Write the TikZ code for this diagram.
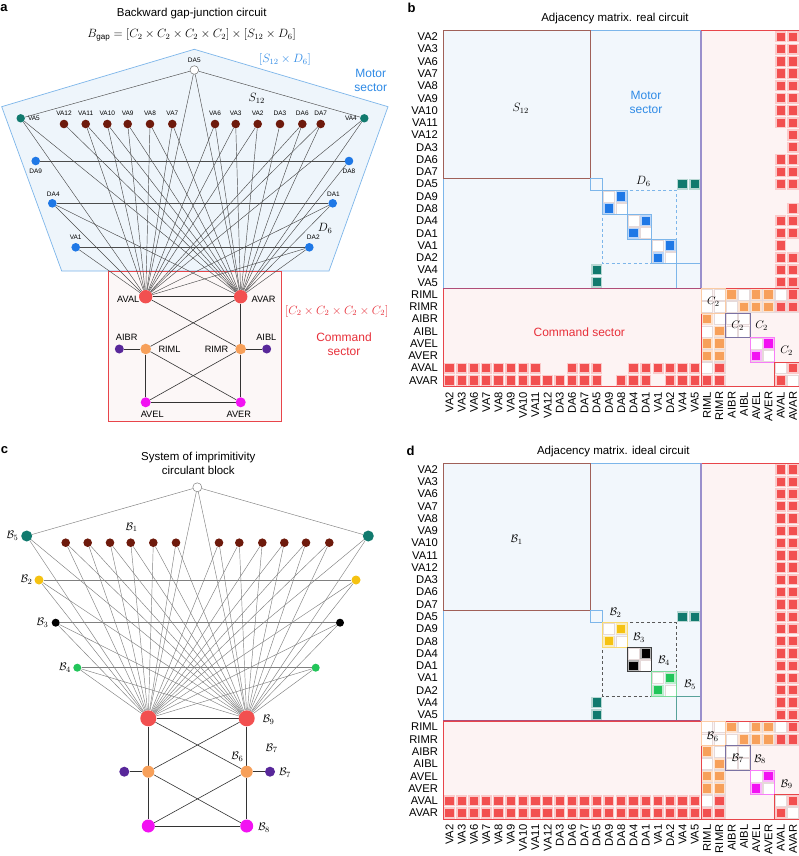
\documentclass[tikz,border=0pt]{standalone}
\usepackage{amsmath}
\usepackage{fontspec}
\setmainfont{Liberation Sans}
\pgfdeclarelayer{bg}
\pgfsetlayers{bg,main}
\definecolor{cRed}{HTML}{F25050}
\definecolor{cBrown}{HTML}{6E1A0C}
\definecolor{cTeal}{HTML}{117A6E}
\definecolor{cBlue}{HTML}{1F78E6}
\definecolor{cOrange}{HTML}{F7A05A}
\definecolor{cPurple}{HTML}{58279A}
\definecolor{cMag}{HTML}{F212F2}
\definecolor{cYellow}{HTML}{F5C211}
\definecolor{cGreen}{HTML}{22C55A}
\definecolor{lineBlue}{HTML}{7DB6EA}
\definecolor{txtBlue}{HTML}{2E8AE6}
\definecolor{lineRed}{HTML}{E8454A}
\definecolor{txtRed}{HTML}{E8303A}
\definecolor{motorFill}{HTML}{F2F7FC}
\definecolor{cmdFill}{HTML}{FDF3F3}
\definecolor{pentFill}{HTML}{EEF5FB}
\definecolor{boxFill}{HTML}{FCF7F7}
\definecolor{brownLine}{HTML}{A06058}
\definecolor{purpLine}{HTML}{9A8FCC}
\definecolor{redPurp}{HTML}{B04D78}
\definecolor{gridc}{HTML}{E6DADA}
\tikzset{
  dot/.style 2 args={circle,fill=#1,minimum size=#2,inner sep=0pt},
  edgeA/.style={draw=black!70,line width=0.45pt},
  edgeC/.style={draw=black!50,line width=0.45pt},
  cmdA/.style={draw=black!80,line width=0.6pt},
  tinylab/.style={font=\fontsize{6.5}{7}\selectfont,inner sep=0pt},
  nlab/.style={font=\fontsize{9.2}{10}\selectfont,inner sep=0pt},
  ttl/.style={font=\fontsize{11.5}{14}\selectfont,inner sep=0pt,align=center},
  big/.style={font=\fontsize{12}{14}\selectfont,inner sep=0pt,align=center},
  panel/.style={font=\fontsize{13}{14}\selectfont\bfseries,inner sep=0pt},
  mlab/.style={font=\fontsize{11.2}{11.5}\selectfont,inner sep=0pt},
  clab/.style={font=\fontsize{11}{12}\selectfont,inner sep=0pt},
}
\newcommand{\mcell}[3]{%
  \fill[#3!30!white] (#2+0.05,#1+0.05) rectangle (#2+0.95,#1+0.95);
  \fill[#3] (#2+0.16,#1+0.16) rectangle (#2+0.84,#1+0.84);}
\newcommand{\mpair}[3]{\mcell{#1}{#2}{#3}\mcell{#2}{#1}{#3}}
\newcommand{\ecell}[2]{\filldraw[fill=white,draw=gridc,line width=0.4pt] (#2+0.05,#1+0.05) rectangle (#2+0.95,#1+0.95);}
\newcommand{\matcommon}[1]{%
  \fill[motorFill] (0,0) rectangle (21,21);
  \fill[cmdFill] (21,0) rectangle (29,21);
  \fill[cmdFill] (0,21) rectangle (29,29);
  \foreach \r in {21,...,28}{\foreach \c in {21,22}{\ecell{\r}{\c}\ecell{\c}{\r}}}
  \foreach \p in {13,15,17,23,25,27}{\pgfmathtruncatemacro\q{\p+1}\ecell{\p}{\p}\ecell{\p}{\q}\ecell{\q}{\p}\ecell{\q}{\q}}
  \mpair{21}{23}{cOrange}\mpair{21}{25}{cOrange}\mpair{21}{26}{cOrange}
  \mpair{22}{24}{cOrange}\mpair{22}{25}{cOrange}\mpair{22}{26}{cOrange}
  \mpair{25}{26}{cMag}
  \mpair{27}{22}{cRed}\mpair{28}{21}{cRed}\mpair{28}{22}{cRed}\mpair{27}{28}{cRed}
  \mpair{12}{19}{cTeal}\mpair{12}{20}{cTeal}
  \foreach \n [count=\i from 0] in {VA2,VA3,VA6,VA7,VA8,VA9,VA10,VA11,VA12,DA3,DA6,DA7,DA5,DA9,DA8,DA4,DA1,VA1,DA2,VA4,VA5,RIML,RIMR,AIBR,AIBL,AVEL,AVER,AVAL,AVAR}{
    \node[mlab,anchor=east] (#1r\i) at (-0.42,\i+0.5) {\n};
    \node[mlab,anchor=east,rotate=90] (#1c\i) at (\i+0.5,29.42) {\n};}
}
\newcommand{\matframe}{%
  \draw[lineRed,line width=0.8pt] (21,0) rectangle (29,29);
  \draw[lineRed,line width=0.8pt] (0,21) rectangle (29,29);
  \draw[cOrange!55!white,line width=0.8pt] (21,21) rectangle (23,23);
  \draw[purpLine!80!black,line width=0.8pt] (23,23) rectangle (25,25);
  \draw[cMag!55!white,line width=0.8pt] (25,25) rectangle (27,27);
  \draw[lineRed,line width=0.8pt] (27,27) rectangle (29,29);
  \draw[redPurp,line width=1pt] (0,21) -- (21,21);
  \draw[purpLine,line width=1.4pt] (21,0) -- (21,21);
}
\begin{document}
\begin{tikzpicture}[x=1pt,y=-1pt]
\useasboundingbox (0,0) rectangle (799,856);
\begin{pgfonlayer}{bg}
\fill[white] (0,0) rectangle (799,856);
\end{pgfonlayer}
% ================= panel a =================
\node[panel] (pa) at (4,8) {a};
\node[ttl] (ta) at (191.7,13.3) {Backward gap-junction circuit};
\node[ttl] (fa) at (191.7,35) {$B_{\text{gap}} = [C_2\times C_2\times C_2\times C_2]\times[S_{12}\times D_6]$};
\node[big,text=txtBlue] (sdA) at (285,60) {$[S_{12}\times D_6]$};
\node[big,text=txtBlue] (msA) at (370.7,80.3) {Motor\\sector};
\node[big] (s12A) at (256.7,98.3) {$S_{12}$};
\node[big] (d6A) at (325,228.3) {$D_6$};
\node[big,text=txtRed] (ccA) at (336.7,311) {$[C_2\times C_2\times C_2\times C_2]$};
\node[big,text=txtRed] (csA) at (344,344.7) {Command\\sector};

\node[dot={white}{8.6pt},draw=black!55,line width=0.5pt] (aDA5) at (194.3,70) {};
\node[tinylab] (laDA5) at (194.3,60.7) {DA5};
\node[dot={cTeal}{8.4pt}] (aVA5) at (20.7,118.3) {};
\node[dot={cTeal}{8.4pt}] (aVA4) at (364.3,118.3) {};
\node[tinylab,anchor=west] (laVA5) at (27.8,118.3) {VA5};
\node[tinylab,anchor=east] (laVA4) at (357,118.3) {VA4};
\foreach \n/\x in {VA12/64,VA11/85.7,VA10/107.3,VA9/127.7,VA8/150,VA7/172.3,VA6/215,VA3/235.7,VA2/257.7,DA3/280,DA6/302.3,DA7/320.7}{
  \node[dot={cBrown}{8.6pt}] (a\n) at (\x,124) {};
  \node[tinylab] (la\n) at (\x,113.7) {\n};}
\node[dot={cBlue}{8.6pt}] (aDA9) at (35.7,161) {};
\node[dot={cBlue}{8.6pt}] (aDA8) at (349,161) {};
\node[dot={cBlue}{8.6pt}] (aDA4) at (52.3,203.3) {};
\node[dot={cBlue}{8.6pt}] (aDA1) at (332.7,203.3) {};
\node[dot={cBlue}{8.6pt}] (aVA1) at (75.7,247.3) {};
\node[dot={cBlue}{8.6pt}] (aDA2) at (309.3,247.3) {};
\node[tinylab] (laDA9) at (35.7,171) {DA9};
\node[tinylab] (laDA8) at (349,171) {DA8};
\node[tinylab] (laDA4) at (53.3,194.3) {DA4};
\node[tinylab] (laDA1) at (333.5,194.3) {DA1};
\node[tinylab] (laVA1) at (75.7,237.7) {VA1};
\node[tinylab] (laDA2) at (313.3,237.7) {DA2};
\node[dot={cRed}{13.4pt}] (aAVAL) at (145.7,296.7) {};
\node[dot={cRed}{13.4pt}] (aAVAR) at (240.7,296.7) {};
\node[dot={cOrange}{10.6pt}] (aRIML) at (145.7,349) {};
\node[dot={cOrange}{10.6pt}] (aRIMR) at (240.7,349) {};
\node[dot={cPurple}{9pt}] (aAIBR) at (119.3,349) {};
\node[dot={cPurple}{9pt}] (aAIBL) at (266.7,349) {};
\node[dot={cMag}{10pt}] (aAVEL) at (145.7,402.3) {};
\node[dot={cMag}{10pt}] (aAVER) at (240.7,402.3) {};
\node[nlab,anchor=east] (laAVAL) at (139.5,299.3) {AVAL};
\node[nlab,anchor=west] (laAVAR) at (251.5,299.3) {AVAR};
\node[nlab,anchor=west] (laRIML) at (158.3,349.3) {RIML};
\node[nlab,anchor=east] (laRIMR) at (228.5,349.3) {RIMR};
\node[nlab] (laAIBR) at (126.7,337.7) {AIBR};
\node[nlab] (laAIBL) at (266.3,337.7) {AIBL};
\node[nlab] (laAVEL) at (152.2,414.3) {AVEL};
\node[nlab] (laAVER) at (238.8,414.3) {AVER};
\begin{pgfonlayer}{bg}
\filldraw[fill=pentFill,draw=lineBlue,line width=0.7pt] (194.3,49.3) -- (1.7,106.7) -- (61.7,271) -- (329,271) -- (388,106.7) -- cycle;
\filldraw[fill=boxFill,draw=lineRed,line width=0.7pt] (108.3,271) rectangle (281.7,421.7);
\draw[edgeA] (aDA5) -- (aVA5);
\draw[edgeA] (aDA5) -- (aVA4);
\draw[edgeA] (aDA9) -- (aDA8);
\draw[edgeA] (aDA4) -- (aDA1);
\draw[edgeA] (aVA1) -- (aDA2);
\foreach \n in {VA2,VA3,VA6,VA7,VA8,VA9,VA10,VA11,DA6,DA7,DA5,DA4,DA1,VA1,DA2,VA4,VA5}{\draw[edgeA] (a\n) -- (aAVAL);}
\foreach \n in {VA2,VA3,VA6,VA7,VA8,VA9,VA10,VA11,VA12,DA3,DA6,DA7,DA5,DA8,DA4,DA1,DA2,VA4,VA5}{\draw[edgeA] (a\n) -- (aAVAR);}
\draw[cmdA] (aAVAL) -- (aAVAR);
\draw[cmdA] (aAVAL) -- (aRIMR);
\draw[cmdA] (aAVAR) -- (aRIML);
\draw[cmdA] (aAVAR) -- (aRIMR);
\draw[cmdA] (aAIBR) -- (aRIML);
\draw[cmdA] (aAIBL) -- (aRIMR);
\draw[cmdA] (aRIML) -- (aAVEL);
\draw[cmdA] (aRIML) -- (aAVER);
\draw[cmdA] (aRIMR) -- (aAVEL);
\draw[cmdA] (aRIMR) -- (aAVER);
\draw[cmdA] (aAVEL) -- (aAVER);
\end{pgfonlayer}
% ================= panel c =================
\node[panel] (pc) at (4.5,450) {c};
\node[ttl] (tc) at (198.3,463) {System of imprimitivity\\circulant block};
\node[dot={white}{9pt},draw=black!50,line width=0.5pt] (cTop) at (197.3,487.3) {};
\node[dot={cTeal}{11pt}] (cB5L) at (26.7,536) {};
\node[dot={cTeal}{11pt}] (cB5R) at (368.3,536) {};
\foreach \x [count=\i] in {65.7,87.7,110,130.7,153.3,176,219,239.3,262.3,284.3,306,329.3}{
  \node[dot={cBrown}{8.6pt}] (cBr\i) at (\x,542.7) {};}
\node[dot={cYellow}{9pt}] (cB2L) at (39,580) {};
\node[dot={cYellow}{9pt}] (cB2R) at (356,580) {};
\node[dot={black}{8pt}] (cB3L) at (55.7,622.7) {};
\node[dot={black}{8pt}] (cB3R) at (340,622.7) {};
\node[dot={cGreen}{8pt}] (cB4L) at (77.3,667.7) {};
\node[dot={cGreen}{8pt}] (cB4R) at (315.7,667.7) {};
\node[dot={cRed}{16pt}] (cAVAL) at (148.3,718.3) {};
\node[dot={cRed}{16pt}] (cAVAR) at (246.7,718.3) {};
\node[dot={cOrange}{12pt}] (cRIML) at (148.3,771.7) {};
\node[dot={cOrange}{12pt}] (cRIMR) at (246.7,771.7) {};
\node[dot={cPurple}{10pt}] (cAIBR) at (124.3,771.7) {};
\node[dot={cPurple}{10pt}] (cAIBL) at (270,771.7) {};
\node[dot={cMag}{13pt}] (cAVEL) at (148.3,826) {};
\node[dot={cMag}{13pt}] (cAVER) at (246.7,826) {};
\node[clab] (lcB5) at (12.5,536) {$\mathcal{B}_5$};
\node[clab] (lcB2) at (26.5,580) {$\mathcal{B}_2$};
\node[clab] (lcB3) at (42.5,622.7) {$\mathcal{B}_3$};
\node[clab] (lcB4) at (65,667.7) {$\mathcal{B}_4$};
\node[clab] (lcB1) at (131.7,527.3) {$\mathcal{B}_1$};
\node[clab] (lcB9) at (268.5,720) {$\mathcal{B}_9$};
\node[clab] (lcB7a) at (271.7,748.3) {$\mathcal{B}_7$};
\node[clab] (lcB6) at (237.3,756.7) {$\mathcal{B}_6$};
\node[clab] (lcB7b) at (285,773) {$\mathcal{B}_7$};
\node[clab] (lcB8) at (264,828) {$\mathcal{B}_8$};
\begin{pgfonlayer}{bg}
\draw[edgeC] (cTop) -- (cB5L);
\draw[edgeC] (cTop) -- (cB5R);
\draw[edgeC] (cTop) -- (cAVAL);
\draw[edgeC] (cTop) -- (cAVAR);
\draw[edgeC] (cB2L) -- (cB2R);
\draw[edgeC] (cB3L) -- (cB3R);
\draw[edgeC] (cB4L) -- (cB4R);
\foreach \n in {cB5L,cB5R,cB2L,cB2R,cB3L,cB3R,cB4L,cB4R,cBr1,cBr2,cBr3,cBr4,cBr5,cBr6,cBr7,cBr8,cBr9,cBr10,cBr11,cBr12}{
  \draw[edgeC] (\n) -- (cAVAL);
  \draw[edgeC] (\n) -- (cAVAR);}
\draw[cmdA] (cAVAL) -- (cAVAR);
\draw[cmdA] (cAVAL) -- (cRIML);
\draw[cmdA] (cAVAL) -- (cRIMR);
\draw[cmdA] (cAVAR) -- (cRIML);
\draw[cmdA] (cAVAR) -- (cRIMR);
\draw[cmdA] (cAIBR) -- (cRIML);
\draw[cmdA] (cAIBL) -- (cRIMR);
\draw[cmdA] (cRIML) -- (cAVEL);
\draw[cmdA] (cRIML) -- (cAVER);
\draw[cmdA] (cRIMR) -- (cAVEL);
\draw[cmdA] (cRIMR) -- (cAVER);
\draw[cmdA] (cAVEL) -- (cAVER);
\end{pgfonlayer}
% ================= panel b =================
\node[panel] (pb) at (411.5,8) {b};
\node[ttl] (tb) at (615,18.3) {Adjacency matrix. real circuit};
\begin{scope}[shift={(443.3,30.7)},x=12.27pt,y=-12.27pt]
\matcommon{mb}
\foreach \r in {0,1,2,3,4,5,6,7,10,11,12,15,16,17,18,19,20}{\mpair{\r}{27}{cRed}}
\foreach \r in {0,1,2,3,4,5,6,7,8,9,10,11,12,14,15,16,18,19,20}{\mpair{\r}{28}{cRed}}
\mpair{13}{14}{cBlue}\mpair{15}{16}{cBlue}\mpair{17}{18}{cBlue}
\draw[lineBlue,line width=0.8pt] (0,0) rectangle (21,21);
\draw[brownLine,line width=0.8pt] (0,0) rectangle (12,12);
\draw[lineBlue,line width=0.8pt] (12,12) rectangle (13,13);
\draw[lineBlue,line width=0.8pt] (13,13) rectangle (15,15);
\draw[lineBlue,line width=0.8pt] (15,15) rectangle (17,17);
\draw[lineBlue,line width=0.8pt] (17,17) rectangle (19,19);
\draw[lineBlue,line width=0.8pt] (19,19) rectangle (21,21);
\draw[lineBlue,line width=0.8pt,dash pattern=on 3pt off 2.5pt] (13,13) rectangle (19,19);
\matframe
\end{scope}
\node[big] (s12B) at (520.7,108.3) {$S_{12}$};
\node[big,text=txtBlue] (msB) at (646,102.3) {Motor\\sector};
\node[big] (d6B) at (643.3,181) {$D_6$};
\node[big,text=txtRed] (csB) at (579.3,332.7) {Command sector};
\node[clab] (c2a) at (713.3,301.7) {$C_2$};
\node[clab] (c2b) at (737.7,326) {$C_2$};
\node[clab] (c2c) at (761.7,326) {$C_2$};
\node[clab] (c2d) at (786.7,350.7) {$C_2$};
% ================= panel d =================
\node[panel] (pd) at (410.7,450.7) {d};
\node[ttl] (td) at (613.3,451.7) {Adjacency matrix. ideal circuit};
\begin{scope}[shift={(443.3,463.3)},x=12.27pt,y=-12.27pt]
\matcommon{md}
\foreach \r in {0,...,20}{\mpair{\r}{27}{cRed}\mpair{\r}{28}{cRed}}
\mpair{13}{14}{cYellow}\mpair{15}{16}{black}\mpair{17}{18}{cGreen}
\draw[lineBlue,line width=0.8pt] (0,0) rectangle (21,21);
\draw[brownLine,line width=0.8pt] (0,0) rectangle (12,12);
\draw[lineBlue,line width=0.8pt] (12,12) rectangle (13,13);
\draw[black!65,line width=0.8pt,dash pattern=on 3pt off 2.5pt] (13,13) rectangle (19,19);
\draw[cYellow!60!white,line width=0.8pt] (13,13) rectangle (15,15);
\draw[black!75,line width=0.8pt] (15,15) rectangle (17,17);
\draw[cGreen!60!white,line width=0.8pt] (17,17) rectangle (19,19);
\draw[cTeal!70!white,line width=0.8pt] (19,19) rectangle (21,21);
\matframe
\end{scope}
\node[clab] (dB1) at (516.7,540) {$\mathcal{B}_1$};
\node[clab] (dB2) at (615.5,613) {$\mathcal{B}_2$};
\node[clab] (dB3) at (639,637.7) {$\mathcal{B}_3$};
\node[clab] (dB4) at (664,661) {$\mathcal{B}_4$};
\node[clab] (dB5) at (690,685) {$\mathcal{B}_5$};
\node[clab] (dB6) at (712.7,736.7) {$\mathcal{B}_6$};
\node[clab] (dB7) at (737.7,758.3) {$\mathcal{B}_7$};
\node[clab] (dB8) at (760,759.3) {$\mathcal{B}_8$};
\node[clab] (dB9) at (786.7,784.3) {$\mathcal{B}_9$};
\end{tikzpicture}
\end{document}
